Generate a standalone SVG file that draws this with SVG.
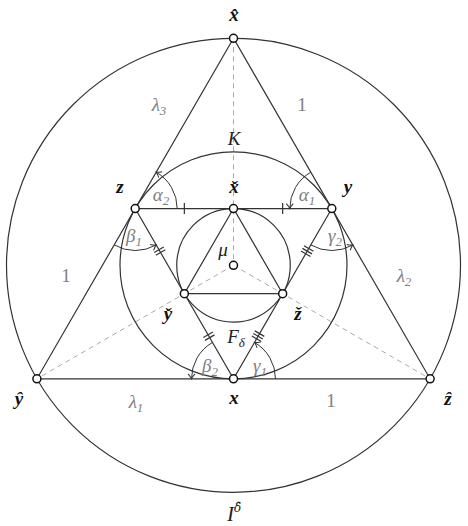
<svg xmlns="http://www.w3.org/2000/svg" width="468" height="526" viewBox="0 0 468 526">
<defs>
<style>
.ln{fill:none;stroke:#333;stroke-width:1.2}
.ds{fill:none;stroke:#aaa;stroke-width:1;stroke-dasharray:5,4}
.ar{fill:none;stroke:#333;stroke-width:1;marker-end:url(#arr)}
.tk{stroke:#333;stroke-width:1.2}
.nd{fill:#fff;stroke:#111;stroke-width:1.5}
.v{font-family:"Liberation Serif","DejaVu Serif",serif;font-style:italic;font-weight:bold;font-size:19px;fill:#111;text-anchor:middle}
.m{font-family:"Liberation Serif","DejaVu Serif",serif;font-style:italic;font-size:19px;fill:#222;text-anchor:middle}
.g{font-family:"Liberation Serif","DejaVu Serif",serif;font-style:italic;font-size:19px;fill:#808080;text-anchor:middle}
.n{font-family:"Liberation Serif","DejaVu Serif",serif;font-size:19px;fill:#808080;text-anchor:middle}
.s{font-size:13px}
</style>
<marker id="arr" viewBox="-6 -5 8 10" markerWidth="8" markerHeight="10" refX="0" refY="0" orient="auto" markerUnits="userSpaceOnUse">
<path d="M-5,-3.5 Q-2,-0.8 0,0 Q-2,0.8 -5,3.5" fill="none" stroke="#333" stroke-width="1"/>
</marker>
</defs>
<g id="connectors">
<line class="ds" x1="233.5" y1="38.3" x2="233.5" y2="265.3"/>
<line class="ds" x1="233.5" y1="265.3" x2="36.91" y2="378.8"/>
<line class="ds" x1="233.5" y1="265.3" x2="430.09" y2="378.8"/>
<circle class="ln" cx="233.5" cy="265.3" r="227"/>
<circle class="ln" cx="233.5" cy="265.3" r="113.5"/>
<circle class="ln" cx="233.5" cy="265.3" r="56.75"/>
<polygon class="ln" points="233.5,38.3 36.91,378.8 430.09,378.8"/>
<line class="ln" x1="135.2" y1="208.55" x2="331.8" y2="208.55"/>
<polygon class="ln" points="233.5,208.55 184.35,293.68 282.65,293.68"/>
<polyline class="ln" points="135.2,208.55 184.35,293.68 233.5,378.8 282.65,293.68 331.8,208.55"/>
<path class="ar" d="M177.2,208.55 A42,42 0 0 0 156.2,172.18"/>
<path class="ar" d="M310.8,172.18 A42,42 0 0 0 289.8,208.55"/>
<path class="ar" d="M114.2,244.92 A42,42 0 0 0 156.2,244.92"/>
<path class="ar" d="M310.8,244.92 A42,42 0 0 0 352.8,244.92"/>
<path class="ar" d="M212.5,342.43 A42,42 0 0 0 191.5,378.8"/>
<path class="ar" d="M275.5,378.8 A42,42 0 0 0 254.5,342.43"/>
<line class="tk" x1="184.35" y1="203" x2="184.35" y2="214"/>
<line class="tk" x1="282.65" y1="203" x2="282.65" y2="214"/>
<g transform="translate(159.78,251.12) rotate(60)"><line class="tk" x1="-1.6" y1="-5.5" x2="-1.6" y2="5.5"/><line class="tk" x1="1.6" y1="-5.5" x2="1.6" y2="5.5"/></g>
<g transform="translate(208.93,336.24) rotate(60)"><line class="tk" x1="-1.6" y1="-5.5" x2="-1.6" y2="5.5"/><line class="tk" x1="1.6" y1="-5.5" x2="1.6" y2="5.5"/></g>
<g transform="translate(307.23,251.12) rotate(-60)"><line class="tk" x1="-3" y1="-5.5" x2="-3" y2="5.5"/><line class="tk" x1="0" y1="-5.5" x2="0" y2="5.5"/><line class="tk" x1="3" y1="-5.5" x2="3" y2="5.5"/></g>
<g transform="translate(258.08,336.24) rotate(-60)"><line class="tk" x1="-3" y1="-5.5" x2="-3" y2="5.5"/><line class="tk" x1="0" y1="-5.5" x2="0" y2="5.5"/><line class="tk" x1="3" y1="-5.5" x2="3" y2="5.5"/></g>
</g>
<g id="node-xhat"><circle class="nd" cx="233.5" cy="38.3" r="4"/><text class="v" x="234" y="21">x̂</text></g>
<g id="node-yhat"><circle class="nd" cx="36.91" cy="378.8" r="4"/><text class="v" x="19" y="405">ŷ</text></g>
<g id="node-zhat"><circle class="nd" cx="430.09" cy="378.8" r="4"/><text class="v" x="448" y="405">ẑ</text></g>
<g id="node-z"><circle class="nd" cx="135.2" cy="208.55" r="4"/><text class="v" x="120" y="193">z</text></g>
<g id="node-y"><circle class="nd" cx="331.8" cy="208.55" r="4"/><text class="v" x="348" y="193">y</text></g>
<g id="node-x"><circle class="nd" cx="233.5" cy="378.8" r="4"/><text class="v" x="234" y="404">x</text></g>
<g id="node-xcheck"><circle class="nd" cx="233.5" cy="208.55" r="4"/><text class="v" x="234" y="193">x̌</text></g>
<g id="node-ycheck"><circle class="nd" cx="184.35" cy="293.68" r="4"/><text class="v" x="168" y="320">y̌</text></g>
<g id="node-zcheck"><circle class="nd" cx="282.65" cy="293.68" r="4"/><text class="v" x="298" y="320">ž</text></g>
<g id="node-mu"><circle class="nd" cx="233.5" cy="265.3" r="4"/><text class="m" x="223" y="256">μ</text></g>
<g id="labels">
<text class="g" x="159" y="111">λ<tspan class="s" dy="4">3</tspan></text>
<text class="n" x="302" y="111">1</text>
<text class="m" x="234" y="145">K</text>
<text class="g" x="161" y="201">α<tspan class="s" dy="4">2</tspan></text>
<text class="g" x="307" y="201">α<tspan class="s" dy="4">1</tspan></text>
<text class="g" x="134" y="242">β<tspan class="s" dy="4">1</tspan></text>
<text class="g" x="335" y="242">γ<tspan class="s" dy="4">2</tspan></text>
<text class="n" x="66" y="282">1</text>
<text class="g" x="404" y="282">λ<tspan class="s" dy="4">2</tspan></text>
<text class="m" x="236" y="343">F<tspan class="s" dy="4">δ</tspan></text>
<text class="g" x="210" y="372">β<tspan class="s" dy="4">2</tspan></text>
<text class="g" x="260" y="372">γ<tspan class="s" dy="4">1</tspan></text>
<text class="g" x="136" y="408">λ<tspan class="s" dy="4">1</tspan></text>
<text class="n" x="331" y="407">1</text>
<text class="m" x="234" y="521" style="font-size:21px">I<tspan style="font-family:'DejaVu Serif',serif;font-size:12px" dy="-9">δ̂</tspan></text>
</g>
</svg>
